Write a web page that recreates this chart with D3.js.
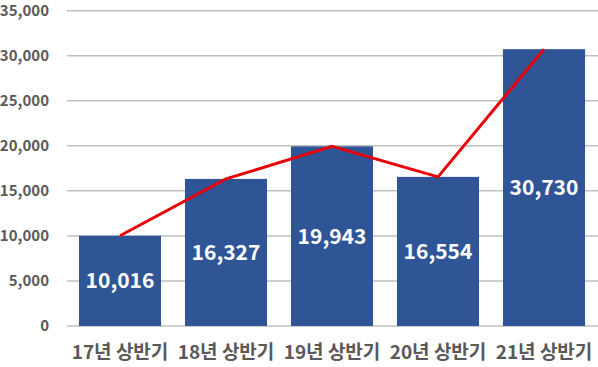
<!DOCTYPE html>
<html>
<head>
<meta charset="utf-8">
<script src="https://d3js.org/d3.v7.min.js"></script>
<style>
  body { margin: 0; background: #fff; }
  svg text { font-family: "Noto Sans CJK KR", "Noto Sans", sans-serif; font-weight: bold; }
</style>
</head>
<body>
<div id="chart"></div>
<script>
// data
const categories = ["17년 상반기", "18년 상반기", "19년 상반기", "20년 상반기", "21년 상반기"]
const values = [10016, 16327, 19943, 16554, 30730]
const yTicks = [0, 5000, 10000, 15000, 20000, 25000, 30000, 35000]

const W = 598, H = 367
const margin = { top: 10.7, right: 1, bottom: 41, left: 67 }

const svg = d3.select("#chart").append("svg")
    .attr("width", W)
    .attr("height", H)

const x = d3.scaleBand()
    .domain(categories)
    .range([margin.left, W - margin.right])
    .paddingInner(0.226)
    .paddingOuter(0.113)

const y = d3.scaleLinear()
    .domain([0, 35000])
    .range([H - margin.bottom, margin.top])

// gridlines
svg.append("g")
    .selectAll("line")
    .data(yTicks)
    .enter().append("line")
    .attr("x1", margin.left)
    .attr("x2", W)
    .attr("y1", d => y(d))
    .attr("y2", d => y(d))
    .attr("stroke", "#bfbfbf")
    .attr("stroke-width", 1.5)

// y tick labels
svg.append("g")
    .selectAll("text")
    .data(yTicks)
    .enter().append("text")
    .attr("x", 49)
    .attr("y", d => y(d))
    .attr("dy", "0.35em")
    .attr("text-anchor", "end")
    .attr("fill", "#595959")
    .style("font-size", "15px")
    .text(d => d3.format(",")(d))

// bars
svg.append("g")
    .selectAll("rect")
    .data(values)
    .enter().append("rect")
    .attr("x", (d, i) => x(categories[i]))
    .attr("width", x.bandwidth())
    .attr("y", d => y(d))
    .attr("height", d => y(0) - y(d))
    .attr("fill", "#2f5597")

// red line through bar tops
const line = d3.line()
    .x((d, i) => x(categories[i]) + x.bandwidth() / 2)
    .y(d => y(d))

svg.append("path")
    .datum(values)
    .attr("d", line)
    .attr("fill", "none")
    .attr("stroke", "#e8000b")
    .attr("stroke-width", 3)

// value labels
svg.append("g")
    .selectAll("text")
    .data(values)
    .enter().append("text")
    .attr("x", (d, i) => x(categories[i]) + x.bandwidth() / 2)
    .attr("y", d => (y(d) + y(0)) / 2)
    .attr("dy", "0.36em")
    .attr("text-anchor", "middle")
    .attr("fill", "#fff")
    .style("font-size", "21px")
    .text(d => d3.format(",")(d))

// category labels
svg.append("g")
    .selectAll("text")
    .data(categories)
    .enter().append("text")
    .attr("x", d => x(d) + x.bandwidth() / 2)
    .attr("y", 352)
    .attr("dy", "0.35em")
    .attr("text-anchor", "middle")
    .attr("fill", "#595959")
    .style("font-size", "19px")
    .text(d => d)
</script>
</body>
</html>
